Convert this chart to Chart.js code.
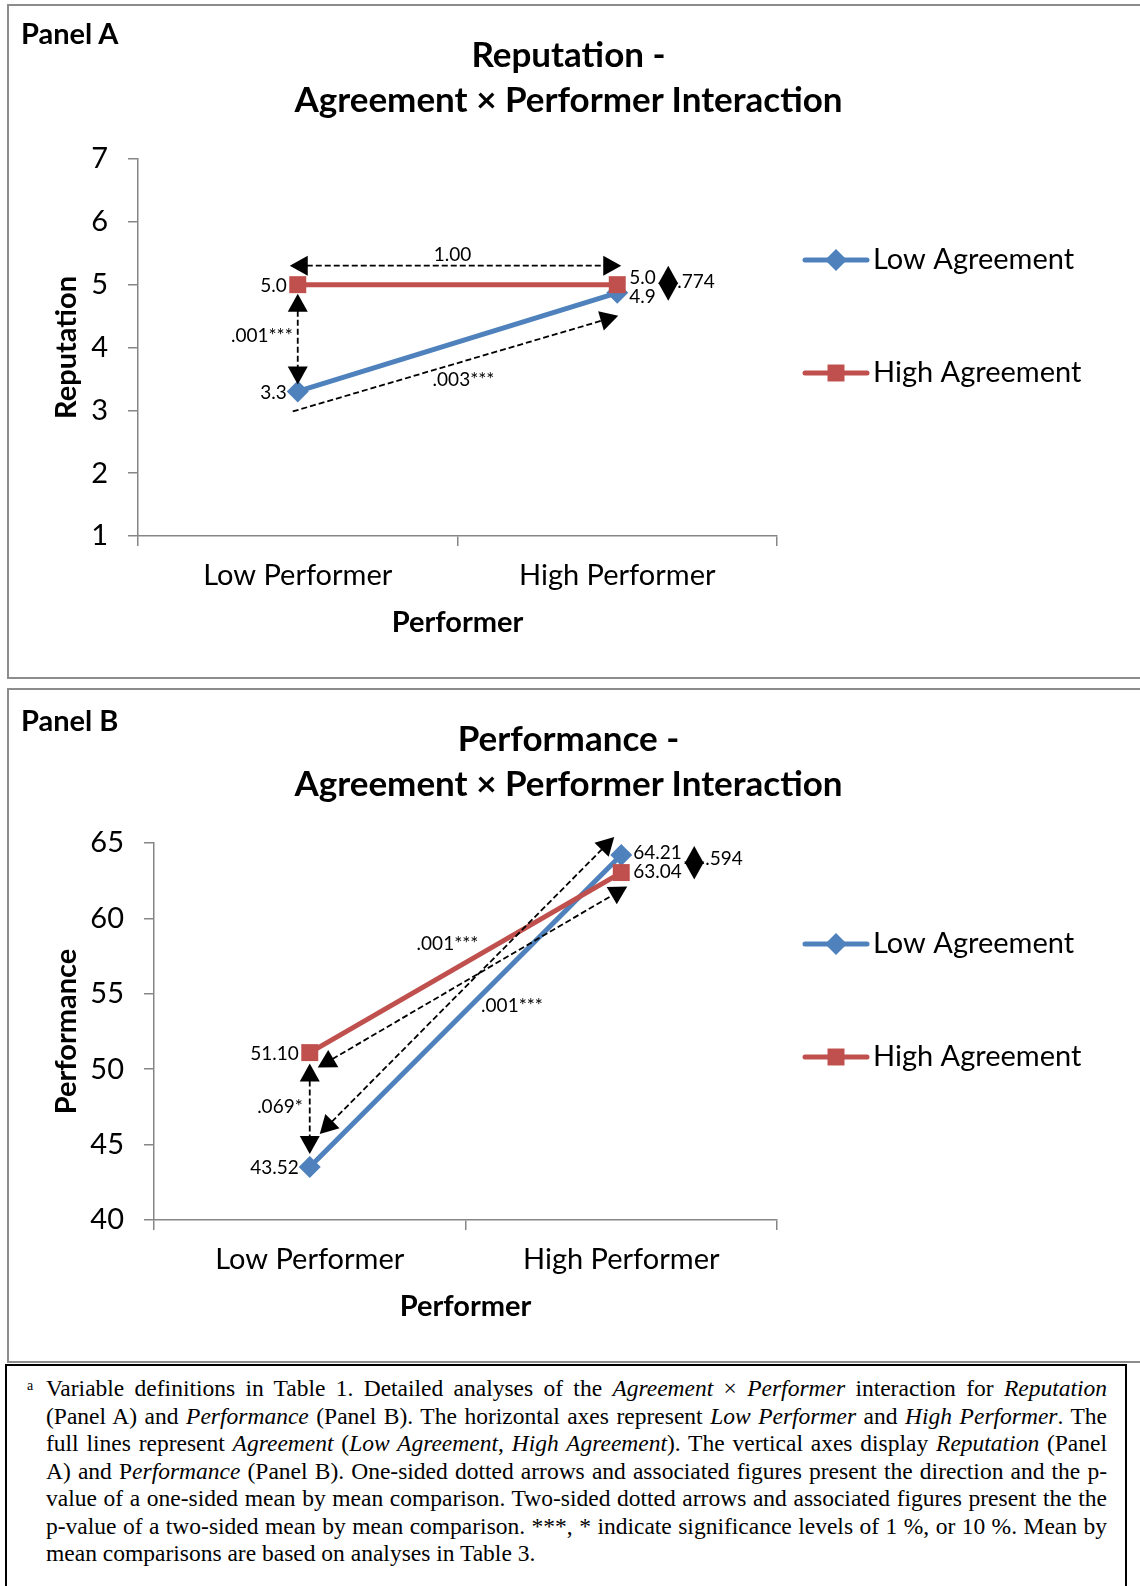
<!DOCTYPE html>
<html>
<head>
<meta charset="utf-8">
<script src="https://cdn.jsdelivr.net/npm/chart.js@4.4.0/dist/chart.umd.min.js"></script>
<style>
  html, body { margin: 0; padding: 0; width: 1140px; height: 1586px; overflow: hidden; background: #fff; }
  #page { position: relative; width: 1140px; height: 1586px; overflow: hidden; font-family: Lato, sans-serif; color: #000; }
  .panel { position: absolute; left: 7px; width: 1160px; height: 675px; border: 2px solid #8c8c8c; box-sizing: border-box; }
  .panel canvas { position: absolute; left: 0; top: 0; }
  .plabel { position: absolute; left: 12px; font-weight: bold; font-size: 29px; line-height: 30px; }
  .ptitle { position: absolute; left: -9px; width: 1137px; text-align: center; font-weight: bold; font-size: 35px; line-height: 45px; }
  #note { position: absolute; left: 5px; top: 1364px; width: 1122px; height: 260px; border: 2px solid #000; box-sizing: border-box;
          font-family: "Liberation Serif", "Times New Roman", serif; font-size: 23.5px; line-height: 27.5px; }
  #note .sup { position: absolute; left: 20px; top: 13px; font-size: 14px; line-height: 14px; }
  #note .lines { position: absolute; left: 39px; top: 9px; width: 1061px; }
  #note .ln { white-space: nowrap; text-align: justify; text-align-last: justify; }
  #note .ln.last { text-align-last: left; }
</style>
</head>
<body>
<div id="page">

<div class="panel" style="top:4px">
  <canvas id="repChart" width="1131" height="670"></canvas>
  <div class="plabel" style="top:12px">Panel A</div>
  <div class="ptitle" style="top:25px">Reputation -<br>Agreement × Performer Interaction</div>
</div>

<div class="panel" style="top:688px">
  <canvas id="perfChart" width="1131" height="670"></canvas>
  <div class="plabel" style="top:15px">Panel B</div>
  <div class="ptitle" style="top:25px">Performance -<br>Agreement × Performer Interaction</div>
</div>

<div id="note">
  <span class="sup">a</span>
  <div class="lines">
    <div class="ln">Variable definitions in Table 1. Detailed analyses of the <i>Agreement</i> × <i>Performer</i> interaction for <i>Reputation</i></div>
    <div class="ln">(Panel A) and <i>Performance</i> (Panel B). The horizontal axes represent <i>Low Performer</i> and <i>High Performer</i>. The</div>
    <div class="ln">full lines represent <i>Agreement</i> (<i>Low Agreement</i>, <i>High Agreement</i>). The vertical axes display <i>Reputation</i> (Panel</div>
    <div class="ln">A) and P<i>erformance</i> (Panel B). One-sided dotted arrows and associated figures present the direction and the p-</div>
    <div class="ln">value of a one-sided mean by mean comparison. Two-sided dotted arrows and associated figures present the the</div>
    <div class="ln">p-value of a two-sided mean by mean comparison. ***, * indicate significance levels of 1 %, or 10 %. Mean by</div>
    <div class="ln last">mean comparisons are based on analyses in Table 3.</div>
  </div>
</div>

</div>
<script>
// categories and series
const performers = ["Low Performer", "High Performer"];
const agreementNames = ["Low Agreement", "High Agreement"];

// Panel A - Reputation
const repLowAgree = [3.3, 4.87];
const repHighAgree = [5.0, 5.0];
const repAxis = [1, 7, 1];          // min, max, step
const repPvals = ["1.00", ".001***", ".003***", ".774"];

// Panel B - Performance
const perfLowAgree = [43.52, 64.21];
const perfHighAgree = [51.10, 63.04];
const perfAxis = [40, 65, 5];
const perfPvals = [".069*", ".001***", ".001***", ".594"];

const BLUE = "#4f81bd";
const RED = "#c0504d";
const AXIS = "#868686";

function pt(chart, ds, i) {
  const el = chart.getDatasetMeta(ds).data[i];
  return { x: el.x, y: el.y };
}

function marker(ctx, style, x, y, r, color) {
  ctx.fillStyle = color;
  ctx.beginPath();
  if (style === "rectRot") {
    ctx.moveTo(x, y - r); ctx.lineTo(x + r, y); ctx.lineTo(x, y + r); ctx.lineTo(x - r, y);
  } else {
    const s = r * Math.SQRT1_2;
    ctx.rect(x - s, y - s, 2 * s, 2 * s);
  }
  ctx.closePath();
  ctx.fill();
}

function head(ctx, tx, ty, fx, fy) {
  const a = Math.atan2(ty - fy, tx - fx), L = 18, W = 10;
  ctx.beginPath();
  ctx.moveTo(tx, ty);
  ctx.lineTo(tx - L * Math.cos(a) + W * Math.sin(a), ty - L * Math.sin(a) - W * Math.cos(a));
  ctx.lineTo(tx - L * Math.cos(a) - W * Math.sin(a), ty - L * Math.sin(a) + W * Math.cos(a));
  ctx.closePath();
  ctx.fill();
}

function arrow(ctx, x1, y1, x2, y2, h1, h2) {
  const len = Math.hypot(x2 - x1, y2 - y1);
  const ux = (x2 - x1) / len, uy = (y2 - y1) / len, L = 17;
  ctx.save();
  ctx.strokeStyle = "#000";
  ctx.fillStyle = "#000";
  ctx.lineWidth = 1.8;
  ctx.setLineDash([6, 3]);
  ctx.beginPath();
  ctx.moveTo(h1 ? x1 + ux * L : x1, h1 ? y1 + uy * L : y1);
  ctx.lineTo(h2 ? x2 - ux * L : x2, h2 ? y2 - uy * L : y2);
  ctx.stroke();
  ctx.setLineDash([]);
  if (h1) head(ctx, x1, y1, x2, y2);
  if (h2) head(ctx, x2, y2, x1, y1);
  ctx.restore();
}

function text(ctx, s, x, y, align) {
  ctx.save();
  ctx.font = "19px Lato";
  ctx.fillStyle = "#000";
  ctx.textAlign = align || "center";
  ctx.textBaseline = "middle";
  ctx.fillText(s, x, y);
  ctx.restore();
}

// point labels: left of the low performer, right of the high performer
const pointLabels = {
  id: "pointLabels",
  afterDatasetsDraw(chart, args, opts) {
    const ctx = chart.ctx;
    for (let i = 0; i < performers.length; i++) {
      const items = chart.data.datasets.map((d, k) => ({ v: d.data[i], p: pt(chart, k, i) }));
      let ys = items.map(o => o.p.y + 1);
      if (Math.abs(ys[0] - ys[1]) < 19) {
        const mid = (ys[0] + ys[1]) / 2 - 2, s = ys[0] > ys[1] ? 1 : -1;
        ys = [mid + s * 9.5, mid - s * 9.5];
      }
      items.forEach((o, k) => {
        const s = o.v.toFixed(opts.digits);
        if (i === 0) text(ctx, s, o.p.x - 11, ys[k], "right");
        else text(ctx, s, o.p.x + 12, ys[k], "left");
      });
    }
  }
};

// legend: line with marker, Excel style, to the right of the plot
const sideLegend = {
  id: "sideLegend",
  afterDraw(chart) {
    const ctx = chart.ctx, a = chart.chartArea;
    const rows = [101, 214];
    chart.data.datasets.forEach((d, k) => {
      const y = a.top + rows[k], x0 = a.right + 28, x1 = a.right + 90;
      ctx.save();
      ctx.strokeStyle = d.borderColor;
      ctx.lineWidth = 5;
      ctx.lineCap = "round";
      ctx.beginPath(); ctx.moveTo(x0, y); ctx.lineTo(x1, y); ctx.stroke();
      marker(ctx, d.pointStyle, (x0 + x1) / 2, y, d.pointRadius, d.borderColor);
      ctx.font = "29px Lato";
      ctx.fillStyle = "#000";
      ctx.textBaseline = "middle";
      ctx.fillText(d.label, a.right + 96, y);
      ctx.restore();
    });
  }
};

const repNotes = {
  id: "repNotes",
  afterDatasetsDraw(chart) {
    const ctx = chart.ctx;
    const lo0 = pt(chart, 0, 0), lo1 = pt(chart, 0, 1), hi0 = pt(chart, 1, 0), hi1 = pt(chart, 1, 1);
    // two-sided: high agreement, low vs high performer
    const hy = hi0.y - 19;
    arrow(ctx, hi0.x - 8, hy, hi1.x + 4, hy, true, true);
    text(ctx, repPvals[0], (hi0.x + hi1.x) / 2 - 5, hy - 11);
    // two-sided: low performer, high vs low agreement
    arrow(ctx, hi0.x, hi0.y + 9, lo0.x, lo0.y - 7, true, true);
    text(ctx, repPvals[1], hi0.x - 5, (hi0.y + lo0.y) / 2 - 2, "right");
    // one-sided: low agreement, low -> high performer
    const a = { x: lo0.x - 5, y: lo0.y + 20 }, b = { x: lo1.x + 1, y: lo1.y + 23 };
    arrow(ctx, a.x, a.y, b.x, b.y, false, true);
    text(ctx, repPvals[2], (a.x + b.x) / 2 + 8, (a.y + b.y) / 2 + 16);
    // two-sided small: high performer, high vs low agreement
    const sx = hi1.x + 51, t = hi1.y - 19, u = lo1.y + 8;
    arrow(ctx, sx, t, sx, u, true, true);
    text(ctx, repPvals[3], sx + 9, (t + u) / 2 - 1, "left");
  }
};

const perfNotes = {
  id: "perfNotes",
  afterDatasetsDraw(chart) {
    const ctx = chart.ctx;
    const lo0 = pt(chart, 0, 0), lo1 = pt(chart, 0, 1), hi0 = pt(chart, 1, 0), hi1 = pt(chart, 1, 1);
    // two-sided: low performer, high vs low agreement
    arrow(ctx, hi0.x, hi0.y + 11, lo0.x, lo0.y - 13, true, true);
    text(ctx, perfPvals[0], hi0.x - 7, (hi0.y + lo0.y) / 2 - 3, "right");
    // high agreement, low vs high performer
    const a = { x: hi0.x + 8, y: hi0.y + 15 }, b = { x: hi1.x + 6, y: hi1.y + 14 };
    arrow(ctx, a.x, a.y, b.x, b.y, true, true);
    text(ctx, perfPvals[1], (a.x + b.x) / 2 - 25, (a.y + b.y) / 2 - 33);
    // low agreement, low vs high performer
    const c = { x: lo0.x + 10, y: lo0.y - 33 }, d = { x: lo1.x - 7, y: lo1.y - 18 };
    arrow(ctx, c.x, c.y, d.x, d.y, true, true);
    text(ctx, perfPvals[2], (c.x + d.x) / 2 + 45, (c.y + d.y) / 2 + 20);
    // two-sided small: high performer, low vs high agreement
    const sx = lo1.x + 73, t = lo1.y - 9, u = hi1.y + 7;
    arrow(ctx, sx, t, sx, u, true, true);
    text(ctx, perfPvals[3], sx + 11, (t + u) / 2 - 4, "left");
  }
};

function makeChart(id, lowVals, highVals, axis, yTitle, axisWidth, notes, digits) {
  return new Chart(document.getElementById(id), {
    type: "line",
    data: {
      labels: performers,
      datasets: [{
        label: agreementNames[0],
        data: lowVals,
        borderColor: BLUE,
        backgroundColor: BLUE,
        borderWidth: 5,
        pointStyle: "rectRot",
        pointRadius: 11,
        pointBorderWidth: 0,
        order: 1
      }, {
        label: agreementNames[1],
        data: highVals,
        borderColor: RED,
        backgroundColor: RED,
        borderWidth: 5,
        pointStyle: "rect",
        pointRadius: 12,
        pointBorderWidth: 0,
        order: 0
      }]
    },
    options: {
      responsive: false,
      animation: false,
      layout: { padding: { top: 153, right: 363, bottom: 30, left: 0 } },
      plugins: {
        legend: { display: false },
        tooltip: { enabled: false },
        pointLabels: { digits: digits }
      },
      scales: {
        x: {
          offset: true,
          grid: { offset: true, drawOnChartArea: false, color: AXIS, tickLength: 10, lineWidth: 1.5 },
          border: { color: AXIS, width: 1.5 },
          ticks: { color: "#000", font: { family: "Lato", size: 29 }, padding: 12, maxRotation: 0 },
          title: { display: true, text: "Performer", color: "#000", font: { family: "Lato", size: 29, weight: "bold" }, padding: { top: 0, bottom: 6 } },
          afterFit(s) { s.height = 110; }
        },
        y: {
          min: axis[0],
          max: axis[1],
          grid: { drawOnChartArea: false, color: AXIS, tickLength: 10, lineWidth: 1.5 },
          border: { color: AXIS, width: 1.5 },
          ticks: { stepSize: axis[2], color: "#000", font: { family: "Lato", size: 29 }, padding: 20 },
          title: { display: true, text: yTitle, color: "#000", font: { family: "Lato", size: 29, weight: "bold" }, padding: { top: 40, bottom: 0 } },
          afterFit(s) { s.width = axisWidth; }
        }
      }
    },
    plugins: [pointLabels, sideLegend, notes]
  });
}

makeChart("repChart", repLowAgree, repHighAgree, repAxis, "Reputation", 129, repNotes, 1);
makeChart("perfChart", perfLowAgree, perfHighAgree, perfAxis, "Performance", 145, perfNotes, 2);
</script>
</body>
</html>
